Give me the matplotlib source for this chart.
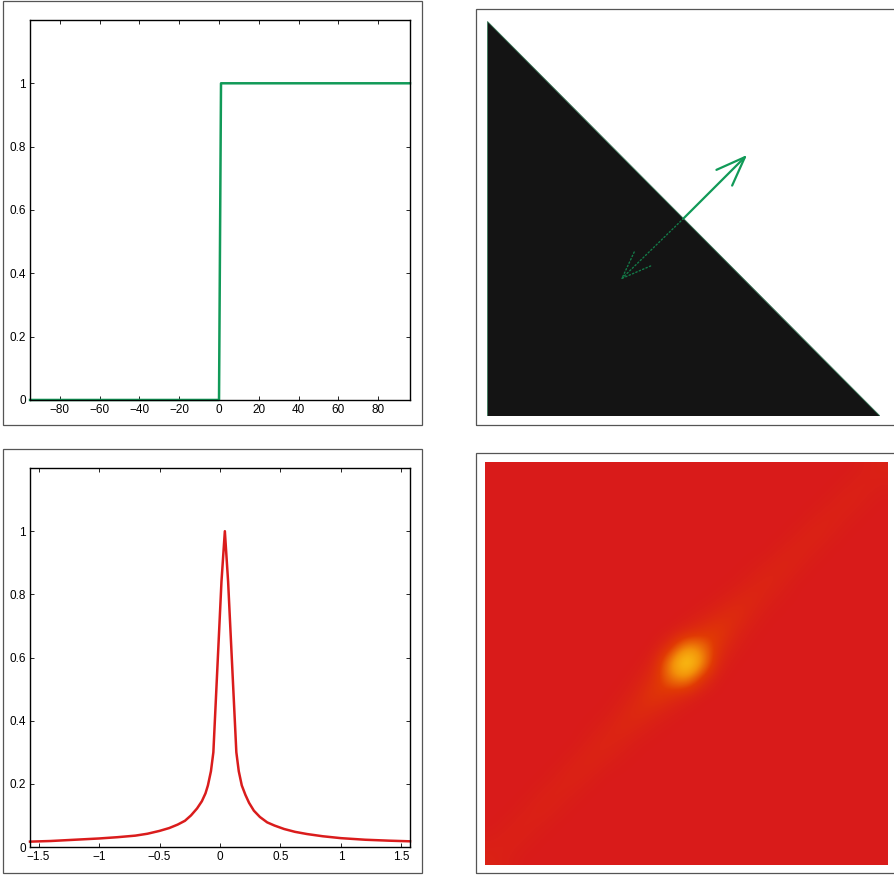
import numpy as np
import matplotlib
matplotlib.use('Agg')
import matplotlib.pyplot as plt
from matplotlib.patches import Rectangle
from matplotlib.colors import LinearSegmentedColormap

plt.rcParams['font.family'] = ['Liberation Sans', 'DejaVu Sans']

# top left: step response
step_x = [-95, 0, 1, 96]
step_y = [0, 0, 1, 1]
step_xticks = [-80, -60, -40, -20, 0, 20, 40, 60, 80]

# bottom left: peaked profile
peak_x = [-1.571, -1.4, -1.2, -1.0, -0.85, -0.7, -0.6, -0.5, -0.42, -0.35, -0.29, -0.24,
          -0.19, -0.15, -0.12, -0.10, -0.075, -0.055,
          0.012, 0.04, 0.067,
          0.135, 0.155, 0.18, 0.21, 0.24, 0.28, 0.33, 0.39, 0.45, 0.53, 0.62, 0.72, 0.85,
          1.0, 1.2, 1.4, 1.571]
peak_y = [0.017, 0.019, 0.023, 0.027, 0.031, 0.036, 0.042, 0.051, 0.06, 0.071, 0.083, 0.1,
          0.122, 0.145, 0.17, 0.195, 0.24, 0.30,
          0.84, 1.0, 0.84,
          0.30, 0.24, 0.195, 0.165, 0.14, 0.115, 0.095, 0.078, 0.068, 0.057, 0.048, 0.041, 0.034,
          0.028, 0.023, 0.020, 0.018]
peak_xticks = [-1.5, -1, -0.5, 0, 0.5, 1, 1.5]
peak_xlabels = ['\u22121.5', '\u22121', '\u22120.5', '0', '0.5', '1', '1.5']

yticks = [0, 0.2, 0.4, 0.6, 0.8, 1]
ylabels = ['0', '0.2', '0.4', '0.6', '0.8', '1']

# top right: half plane with normal arrow
tri_x = [0, 0, 1]
tri_y = [1, 0, 0]
arrow_base = (0.5, 0.5)
arrow_out = (0.662, 0.661)
arrow_in = (0.34, 0.345)

# bottom right: intensity map, values along the streak (top-right -> bottom-left)
streak_center = [0.06, 0.06, 0.07, 0.07, 0.08, 0.08, 0.09, 0.1, 0.12, 0.17, 0.26, 0.5,
                 1.0, 0.48, 0.25, 0.16, 0.12, 0.1, 0.09, 0.08, 0.07, 0.07, 0.06, 0.06, 0.06]
streak_side = [0.035, 0.035, 0.035, 0.04, 0.04, 0.045, 0.05, 0.055, 0.07, 0.1, 0.18, 0.6,
               0.58, 0.17, 0.1, 0.07, 0.055, 0.05, 0.045, 0.04, 0.04, 0.035, 0.035, 0.035]
streak_outer = [0, 0, 0, 0, 0, 0, 0.01, 0.01, 0.02, 0.04, 0.08, 0.18,
                0.08, 0.04, 0.02, 0.01, 0.01, 0, 0, 0, 0, 0, 0]

GREEN = '#119a58'
RED = '#da1c1c'

fig = plt.figure(figsize=(8.94, 8.75), dpi=100)


def style_axes(ax):
  ax.set_ylim(0, 1.2)
  ax.set_yticks(yticks)
  ax.set_yticklabels(ylabels)
  ax.tick_params(direction='in', top=True, right=True, length=3, width=0.6,
                 labelsize=8.5, pad=3, colors='black')
  for s in ax.spines.values():
    s.set_linewidth(1.0)


# panel boxes
for (l, b, w, h) in [(0.0034, 0.5143, 0.4687, 0.4846), (0.5324, 0.5143, 0.48, 0.4754),
                     (0.0034, 0.0023, 0.4687, 0.4846), (0.5324, 0.0023, 0.48, 0.48)]:
  fig.patches.append(Rectangle((l, b), w, h, transform=fig.transFigure, fill=False,
                               edgecolor='#555555', lw=0.9, clip_on=False))

ax1 = fig.add_axes([0.0336, 0.5429, 0.425, 0.4343])
ax1.plot(step_x, step_y, color=GREEN, lw=1.8, clip_on=False)
ax1.set_xlim(-95, 96)
ax1.set_xticks(step_xticks)
ax1.set_xticklabels(['\u2212%d' % -t if t < 0 else str(t) for t in step_xticks])
style_axes(ax1)

ax3 = fig.add_axes([0.0336, 0.0320, 0.425, 0.4331])
ax3.plot(peak_x, peak_y, color=RED, lw=1.8, clip_on=False)
ax3.set_xlim(-np.pi / 2, np.pi / 2)
ax3.set_xticks(peak_xticks)
ax3.set_xticklabels(peak_xlabels)
style_axes(ax3)

ax2 = fig.add_axes([0.5447, 0.5246, 0.4396, 0.4514])
ax2.fill(tri_x, tri_y, color='#141414', lw=0.6, edgecolor='#3a7a5a')
ax2.annotate('', xy=arrow_out, xytext=arrow_base,
             arrowprops=dict(arrowstyle='->,head_length=2.1,head_width=0.8',
                             color=GREEN, lw=1.6, shrinkA=0, shrinkB=0, mutation_scale=10))
ax2.annotate('', xy=arrow_in, xytext=arrow_base,
             arrowprops=dict(arrowstyle='->,head_length=2.1,head_width=0.8',
                             color='#137a48', lw=1.0, ls=':', shrinkA=0, shrinkB=0,
                             mutation_scale=10))
ax2.set_xlim(0, 1)
ax2.set_ylim(0, 1)
ax2.axis('off')

grid = np.fliplr(np.diag(streak_center) + np.diag(streak_side, 1) + np.diag(streak_side, -1)
                 + np.diag(streak_outer, 2) + np.diag(streak_outer, -2))
cmap = LinearSegmentedColormap.from_list('heat', [(0, '#d91b1a'), (0.3, '#e13a04'),
                                                  (0.65, '#f3920a'), (1, '#fdd017')])
ax4 = fig.add_axes([0.5425, 0.01143, 0.4497, 0.4606])
ax4.imshow(grid, cmap=cmap, vmin=0, vmax=0.9, interpolation='bicubic', aspect='auto')
ax4.axis('off')

fig.savefig('out.png', dpi=100)
